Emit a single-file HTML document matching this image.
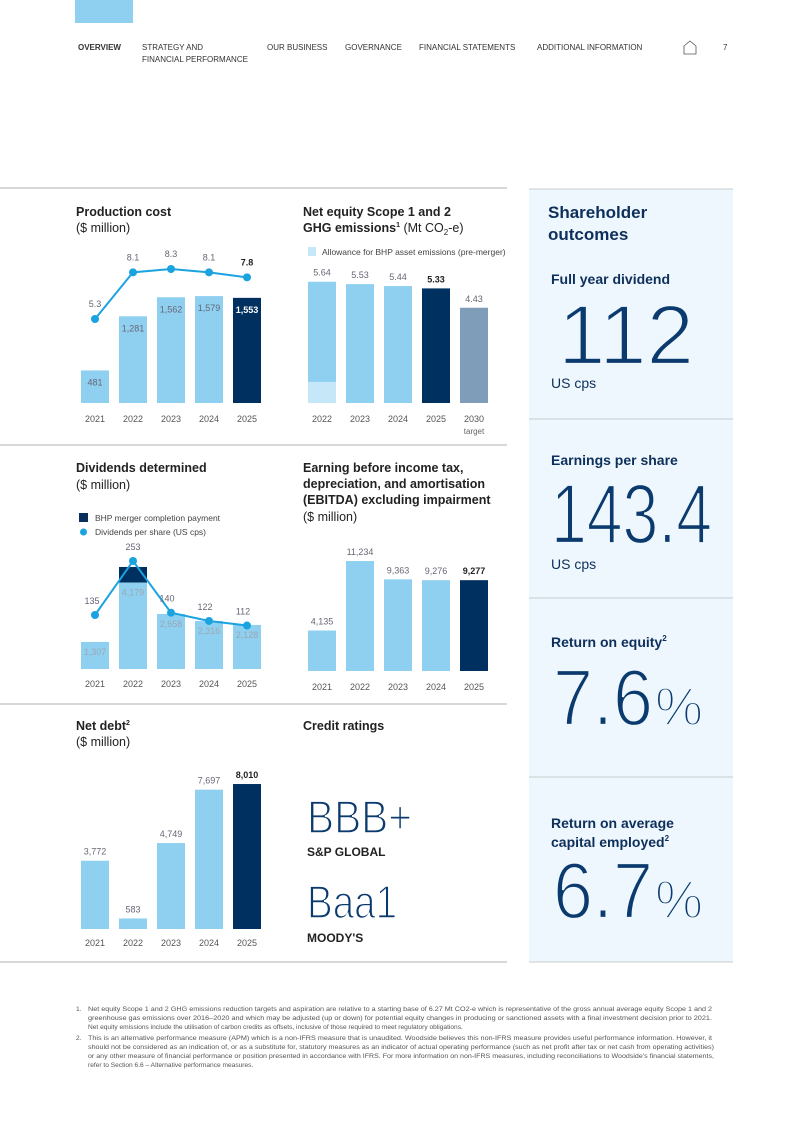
<!DOCTYPE html>
<html><head><meta charset="utf-8"><style>
html,body{margin:0;padding:0;background:#fff;}
svg{display:block;font-family:"Liberation Sans",sans-serif;}
.thin{stroke:#eef7fd;stroke-width:2.2;}
.thinw{stroke:#fff;stroke-width:1.6;}
</style></head><body>
<svg id="pg" width="793" height="1121" viewBox="0 0 793 1121" xmlns="http://www.w3.org/2000/svg">
<rect x="75" y="0" width="58" height="23" fill="#8fd0f0"/>
<g font-size="8" fill="#333">
<text x="78" y="50" font-weight="bold">OVERVIEW</text>
<text x="142" y="50">STRATEGY AND<tspan x="142" y="62">FINANCIAL PERFORMANCE</tspan></text>
<text x="267" y="50">OUR BUSINESS</text>
<text x="345" y="50">GOVERNANCE</text>
<text x="419" y="50">FINANCIAL STATEMENTS</text>
<text x="537" y="50">ADDITIONAL INFORMATION</text>
<path d="M684 54 V46 L690 41 L696 46 V54 Z" fill="none" stroke="#555" stroke-width="0.8"/>
<text x="723" y="50">7</text>
</g>
<g stroke="#ccc" stroke-width="1.5">
<line x1="0" y1="188" x2="507" y2="188"/><line x1="0" y1="445" x2="507" y2="445"/>
<line x1="0" y1="704" x2="507" y2="704"/><line x1="0" y1="962" x2="507" y2="962"/>
</g>
<rect x="529" y="189" width="204" height="773" fill="#eef7fd"/>
<g stroke="#c8ccd0" stroke-width="1">
<line x1="529" y1="189" x2="733" y2="189"/><line x1="529" y1="419" x2="733" y2="419"/>
<line x1="529" y1="598" x2="733" y2="598"/><line x1="529" y1="777" x2="733" y2="777"/>
<line x1="529" y1="962" x2="733" y2="962"/>
</g>
<g fill="#0d2f5a">
<text x="548" y="218" font-size="17" font-weight="bold">Shareholder<tspan x="548" y="240">outcomes</tspan></text>
<text x="551" y="284" font-size="14" font-weight="bold">Full year dividend</text>
<text x="558" y="364" font-size="84" textLength="136" lengthAdjust="spacingAndGlyphs" fill="#0b3a6e" class="thin">112</text>
<text x="551" y="388" font-size="14">US cps</text>
<text x="551" y="465" font-size="14" font-weight="bold">Earnings per share</text>
<text x="551" y="543" font-size="84" textLength="161" lengthAdjust="spacingAndGlyphs" fill="#0b3a6e" class="thin">143.4</text>
<text x="551" y="569" font-size="14">US cps</text>
<text x="551" y="647" font-size="14" font-weight="bold">Return on equity<tspan font-size="8" dy="-6">2</tspan></text>
<text x="553" y="725" font-size="80" fill="#0b3a6e" class="thin"><tspan textLength="100" lengthAdjust="spacingAndGlyphs">7.6</tspan><tspan font-size="54" dx="2">%</tspan></text>
<text x="551" y="828" font-size="14" font-weight="bold">Return on average<tspan x="551" y="847">capital employed</tspan><tspan font-size="8" dy="-6">2</tspan></text>
<text x="553" y="918" font-size="80" fill="#0b3a6e" class="thin"><tspan textLength="100" lengthAdjust="spacingAndGlyphs">6.7</tspan><tspan font-size="54" dx="2">%</tspan></text>
</g>
<g font-size="12.5" font-weight="bold" fill="#222">
<text x="76" y="216">Production cost<tspan x="76" y="232" font-weight="normal">($ million)</tspan></text>
<text x="303" y="216">Net equity Scope 1 and 2<tspan x="303" y="232">GHG emissions</tspan><tspan font-size="7" dy="-5">1</tspan><tspan dy="5" font-weight="normal"> (Mt CO</tspan><tspan font-size="8" dy="3" font-weight="normal">2</tspan><tspan dy="-3" font-weight="normal">-e)</tspan></text>
<text x="76" y="472">Dividends determined<tspan x="76" y="489" font-weight="normal">($ million)</tspan></text>
<text x="303" y="472">Earning before income tax,<tspan x="303" y="488">depreciation, and amortisation</tspan><tspan x="303" y="504">(EBITDA) excluding impairment</tspan><tspan x="303" y="521" font-weight="normal">($ million)</tspan></text>
<text x="76" y="730">Net debt<tspan font-size="7" dy="-5">2</tspan><tspan x="76" y="746" font-weight="normal">($ million)</tspan></text>
<text x="303" y="730">Credit ratings</text>
</g>
<g fill="#0b3a6e">
<text x="307" y="833" font-size="46" textLength="105" lengthAdjust="spacingAndGlyphs" class="thinw">BBB+</text>
<text x="307" y="856" font-size="12" font-weight="bold" fill="#222">S&amp;P GLOBAL</text>
<text x="307" y="918" font-size="46" textLength="90" lengthAdjust="spacingAndGlyphs" class="thinw">Baa1</text>
<text x="307" y="942" font-size="12" font-weight="bold" fill="#222">MOODY'S</text>
</g>
<rect x="308" y="247" width="8" height="9" fill="#c6e7f8"/>
<text x="322" y="255" font-size="8.5" fill="#444">Allowance for BHP asset emissions (pre-merger)</text>
<rect x="79" y="513" width="9" height="9" fill="#0b2f5c"/>
<text x="95" y="521" font-size="8.5" fill="#444">BHP merger completion payment</text>
<circle cx="83.5" cy="532" r="3.5" fill="#1ba3e0"/>
<text x="95" y="535" font-size="8.5" fill="#444">Dividends per share (US cps)</text>
<g font-size="6.6" fill="#555">
<text x="76" y="1011">1.</text>
<text x="88" y="1011" textLength="624" lengthAdjust="spacingAndGlyphs">Net equity Scope 1 and 2 GHG emissions reduction targets and aspiration are relative to a starting base of 6.27 Mt CO2-e which is representative of the gross annual average equity Scope 1 and 2</text>
<text x="88" y="1020" textLength="624" lengthAdjust="spacingAndGlyphs">greenhouse gas emissions over 2016–2020 and which may be adjusted (up or down) for potential equity changes in producing or sanctioned assets with a final investment decision prior to 2021.</text>
<text x="88" y="1029">Net equity emissions include the utilisation of carbon credits as offsets, inclusive of those required to meet regulatory obligations.</text>
<text x="76" y="1040">2.</text>
<text x="88" y="1040" textLength="624" lengthAdjust="spacingAndGlyphs">This is an alternative performance measure (APM) which is a non-IFRS measure that is unaudited. Woodside believes this non-IFRS measure provides useful performance information. However, it</text>
<text x="88" y="1049" textLength="626" lengthAdjust="spacingAndGlyphs">should not be considered as an indication of, or as a substitute for, statutory measures as an indicator of actual operating performance (such as net profit after tax or net cash from operating activities)</text>
<text x="88" y="1058" textLength="626" lengthAdjust="spacingAndGlyphs">or any other measure of financial performance or position presented in accordance with IFRS. For more information on non-IFRS measures, including reconciliations to Woodside's financial statements,</text>
<text x="88" y="1067">refer to Section 6.6 – Alternative performance measures.</text>
</g>
<g id="charts"></g>
</svg>
<script>
const yearsA = ['2021','2022','2023','2024','2025'];
const yearsB = ['2022','2023','2024','2025','2030'];
const prodCost = [481,1281,1562,1579,1553];
const prodCostLbl = ['481','1,281','1,562','1,579','1,553'];
const unitCost = [5.3,8.1,8.3,8.1,7.8];
const ghg = [5.64,5.53,5.44,5.33,4.43];
const ghgAllowance = [0.98,0,0,0,0];
const divBase = [1307,4179,2658,2316,2128];
const divBaseLbl = ['1,307','4,179','2,658','2,316','2,128'];
const divMerger = [0,750,0,0,0];
const dps = [135,253,140,122,112];
const ebitda = [4135,11234,9363,9276,9277];
const ebitdaLbl = ['4,135','11,234','9,363','9,276','9,277'];
const netDebt = [3772,583,4749,7697,8010];
const netDebtLbl = ['3,772','583','4,749','7,697','8,010'];

const NS='http://www.w3.org/2000/svg';
const root=document.getElementById('charts');
const LIGHT='#8fd0f0', DARK='#00305f', LINE='#1ba3e0';
function mk(tag,attrs,parent){const e=document.createElementNS(NS,tag);for(const k in attrs)e.setAttribute(k,attrs[k]);(parent||root).appendChild(e);return e;}
function txt(x,y,s,size,fill,bold,name,parent){
  const t=mk('text',{x:x,y:y,'font-size':size,fill:fill,'text-anchor':'middle','font-weight':bold?'bold':'normal'},parent);
  t.textContent=s;
  
  
  return t;}
function bar(x,top,h,fill,name,parent){
  const r=mk('rect',{x:x-14,y:top,width:28,height:h,fill:fill},parent);
  
  
  return r;}
function group(name){const g=mk('g',{});
  
  
  return g;}
const xL=i=>95+i*38, xR=i=>322+i*38;

// Production cost
(function(){const g=group('production-cost-chart');const base=403,k=0.0677;const yL=v=>319-(v-5.3)*16.67;
 prodCost.forEach((v,i)=>{const h=v*k,last=i===4;bar(xL(i),base-h,h,last?DARK:LIGHT,'bar-production-'+yearsA[i],g);
  txt(xL(i),base-h+15,prodCostLbl[i],9,last?'#fff':'#667',last,'label-production-'+yearsA[i],g);
  txt(xL(i),422,yearsA[i],9,'#555',false,'x-label-'+yearsA[i],g);});
 const pts=unitCost.map((v,i)=>xL(i)+','+yL(v)).join(' ');
 const pl=mk('polyline',{points:pts,fill:'none',stroke:LINE,'stroke-width':2},g);
 
 
 unitCost.forEach((v,i)=>{const c=mk('circle',{cx:xL(i),cy:yL(v),r:4,fill:LINE},g);
  
  
  txt(xL(i),yL(v)-12,v.toFixed(1),9,i===4?'#222':'#667',i===4,'unit-cost-label',g);});
})();
// GHG
(function(){const g=group('emissions-chart');const base=403,k=21.5;
 ghg.forEach((v,i)=>{const h=v*k;const col=i===3?DARK:(i===4?'#7f9cb8':LIGHT);
  bar(xR(i),base-h,h,col,'bar-emissions-'+yearsB[i],g);
  if(ghgAllowance[i]>0){const a=ghgAllowance[i]*k;bar(xR(i),base-a,a,'#c6e7f8','bar-allowance-'+yearsB[i],g);}
  txt(xR(i),base-h-6,v.toFixed(2),9,i===3?'#222':'#667',i===3,'label-emissions-'+yearsB[i],g);
  txt(xR(i),422,yearsB[i],9,'#555',false,'x-label-'+yearsB[i],g);});
 txt(xR(4),434,'target',8,'#666',false,'x-label-target',g);
})();
// Dividends
(function(){const g=group('dividends-chart');const base=669,k=0.0207;const yL=v=>615-(v-135)*0.458;
 divBase.forEach((v,i)=>{const h=v*k;bar(xL(i),base-h,h,LIGHT,'bar-dividend-'+yearsA[i],g);
  if(divMerger[i]>0){const m=divMerger[i]*k;bar(xL(i),base-h-m,m,DARK,'bar-merger-payment',g);}
  txt(xL(i),base-h+13,divBaseLbl[i],9,'#9aa7b3',false,'label-dividend-'+yearsA[i],g);
  txt(xL(i),687,yearsA[i],9,'#555',false,'x-label-'+yearsA[i],g);});
 const pl=mk('polyline',{points:dps.map((v,i)=>xL(i)+','+yL(v)).join(' '),fill:'none',stroke:LINE,'stroke-width':2},g);
 
 
 dps.forEach((v,i)=>{const c=mk('circle',{cx:xL(i),cy:yL(v),r:4,fill:LINE},g);
  
  
  txt(xL(i)+(i===0?-3:(i>1?-4:0)),yL(v)-11,String(v),9,'#667',false,'dps-label',g);});
})();
// EBITDA
(function(){const g=group('ebitda-chart');const base=671,k=0.00979;
 ebitda.forEach((v,i)=>{const h=v*k,last=i===4;bar(xR(i),base-h,h,last?DARK:LIGHT,'bar-ebitda-'+yearsA[i],g);
  txt(xR(i),base-h-6,ebitdaLbl[i],9,last?'#222':'#667',last,'label-ebitda-'+yearsA[i],g);
  txt(xR(i),690,yearsA[i],9,'#555',false,'x-label-'+yearsA[i],g);});
})();
// Net debt
(function(){const g=group('net-debt-chart');const base=929,k=0.0181;
 netDebt.forEach((v,i)=>{const h=v*k,last=i===4;bar(xL(i),base-h,h,last?DARK:LIGHT,'bar-net-debt-'+yearsA[i],g);
  txt(xL(i),base-h-6,netDebtLbl[i],9,last?'#222':'#667',last,'label-net-debt-'+yearsA[i],g);
  txt(xL(i),946,yearsA[i],9,'#555',false,'x-label-'+yearsA[i],g);});
})();
</script>
</body></html>
